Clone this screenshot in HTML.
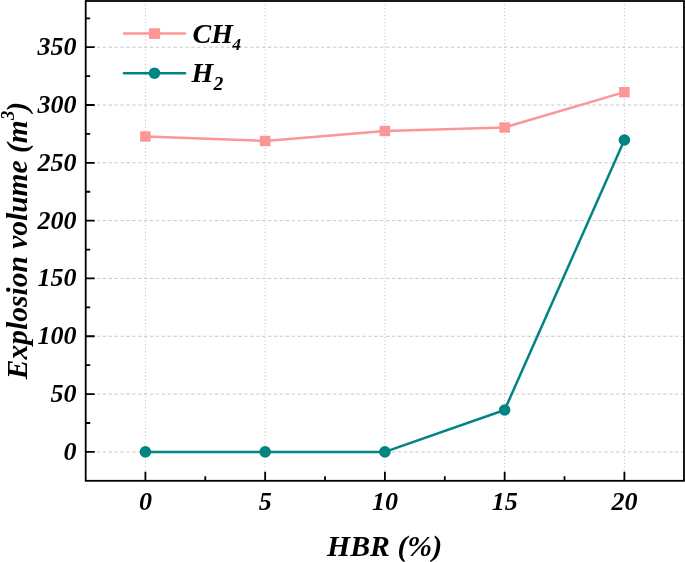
<!DOCTYPE html>
<html><head><meta charset="utf-8"><style>
html,body{margin:0;padding:0;background:#fff;width:685px;height:562px;overflow:hidden;font-family:"Liberation Serif",serif;}
svg{display:block;will-change:transform}
</style></head><body>
<svg width="685" height="562" viewBox="0 0 685 562">
<rect width="685" height="562" fill="#fff"/>
<line x1="85.7" y1="451.90" x2="684.0" y2="451.90" stroke="#c8c8c8" stroke-width="1" stroke-dasharray="3.3 2.6" stroke-dashoffset="0.6"/>
<line x1="85.7" y1="394.08" x2="684.0" y2="394.08" stroke="#c8c8c8" stroke-width="1" stroke-dasharray="3.3 2.6" stroke-dashoffset="0.6"/>
<line x1="85.7" y1="336.27" x2="684.0" y2="336.27" stroke="#c8c8c8" stroke-width="1" stroke-dasharray="3.3 2.6" stroke-dashoffset="0.6"/>
<line x1="85.7" y1="278.45" x2="684.0" y2="278.45" stroke="#c8c8c8" stroke-width="1" stroke-dasharray="3.3 2.6" stroke-dashoffset="0.6"/>
<line x1="85.7" y1="220.64" x2="684.0" y2="220.64" stroke="#c8c8c8" stroke-width="1" stroke-dasharray="3.3 2.6" stroke-dashoffset="0.6"/>
<line x1="85.7" y1="162.82" x2="684.0" y2="162.82" stroke="#c8c8c8" stroke-width="1" stroke-dasharray="3.3 2.6" stroke-dashoffset="0.6"/>
<line x1="85.7" y1="105.01" x2="684.0" y2="105.01" stroke="#c8c8c8" stroke-width="1" stroke-dasharray="3.3 2.6" stroke-dashoffset="0.6"/>
<line x1="85.7" y1="47.19" x2="684.0" y2="47.19" stroke="#c8c8c8" stroke-width="1" stroke-dasharray="3.3 2.6" stroke-dashoffset="0.6"/>
<line x1="145.40" y1="1.0" x2="145.40" y2="480.8" stroke="#c0c0c0" stroke-width="1" stroke-dasharray="1 2.5"/>
<line x1="265.15" y1="1.0" x2="265.15" y2="480.8" stroke="#c0c0c0" stroke-width="1" stroke-dasharray="1 2.5"/>
<line x1="384.90" y1="1.0" x2="384.90" y2="480.8" stroke="#c0c0c0" stroke-width="1" stroke-dasharray="1 2.5"/>
<line x1="504.65" y1="1.0" x2="504.65" y2="480.8" stroke="#c0c0c0" stroke-width="1" stroke-dasharray="1 2.5"/>
<line x1="624.40" y1="1.0" x2="624.40" y2="480.8" stroke="#c0c0c0" stroke-width="1" stroke-dasharray="1 2.5"/>
<path d="M85.7 451.90H94.7 M85.7 394.08H94.7 M85.7 336.27H94.7 M85.7 278.45H94.7 M85.7 220.64H94.7 M85.7 162.82H94.7 M85.7 105.01H94.7 M85.7 47.19H94.7 M85.7 422.99H90.2 M85.7 365.18H90.2 M85.7 307.36H90.2 M85.7 249.55H90.2 M85.7 191.73H90.2 M85.7 133.92H90.2 M85.7 76.10H90.2 M85.7 18.29H90.2 M145.40 480.8V471.8 M265.15 480.8V471.8 M384.90 480.8V471.8 M504.65 480.8V471.8 M624.40 480.8V471.8 M205.28 480.8V476.3 M325.02 480.8V476.3 M444.77 480.8V476.3 M564.52 480.8V476.3" stroke="#000" stroke-width="1.8" fill="none"/>
<rect x="85.7" y="1.0" width="598.3" height="479.8" fill="none" stroke="#000" stroke-width="1.8"/>
<polyline points="145.40,136.4 265.15,140.9 384.90,130.9 504.65,127.4 624.40,92.1" fill="none" stroke="#fb9797" stroke-width="2.5" stroke-linejoin="round"/>
<polyline points="145.40,451.9 265.15,451.9 384.90,451.9 504.65,410.0 624.40,140.0" fill="none" stroke="#008582" stroke-width="2.5" stroke-linejoin="round"/>
<rect x="140.10" y="131.30" width="10.6" height="10.4" fill="#fb9797"/>
<rect x="259.85" y="135.80" width="10.6" height="10.4" fill="#fb9797"/>
<rect x="379.60" y="125.80" width="10.6" height="10.4" fill="#fb9797"/>
<rect x="499.35" y="122.30" width="10.6" height="10.4" fill="#fb9797"/>
<rect x="619.10" y="87.00" width="10.6" height="10.4" fill="#fb9797"/>
<circle cx="145.40" cy="451.9" r="5.8" fill="#008582"/>
<circle cx="265.15" cy="451.9" r="5.8" fill="#008582"/>
<circle cx="384.90" cy="451.9" r="5.8" fill="#008582"/>
<circle cx="504.65" cy="410.0" r="5.8" fill="#008582"/>
<circle cx="624.40" cy="140.0" r="5.8" fill="#008582"/>
<line x1="124" y1="33.6" x2="185" y2="33.6" stroke="#fb9797" stroke-width="2.5" stroke-linecap="round"/>
<rect x="148.9" y="28.3" width="11.2" height="10.6" fill="#fb9797"/>
<line x1="124" y1="73.2" x2="185" y2="73.2" stroke="#008582" stroke-width="2.5" stroke-linecap="round"/>
<circle cx="154.5" cy="73.2" r="5.8" fill="#008582"/>
<text x="192.5" y="42.6" font-family="Liberation Serif" font-weight="bold" font-style="italic" font-size="28">CH<tspan font-size="17.5" dy="7.2" dx="-0.8">4</tspan></text>
<text x="191.5" y="82.2" font-family="Liberation Serif" font-weight="bold" font-style="italic" font-size="28">H<tspan font-size="19.5" dy="7.4" dx="0.3">2</tspan></text>
<text x="76.5" y="459.90" font-family="Liberation Serif" font-weight="bold" font-style="italic" font-size="26" text-anchor="end">0</text>
<text x="76.5" y="402.08" font-family="Liberation Serif" font-weight="bold" font-style="italic" font-size="26" text-anchor="end">50</text>
<text x="76.5" y="344.27" font-family="Liberation Serif" font-weight="bold" font-style="italic" font-size="26" text-anchor="end">100</text>
<text x="76.5" y="286.45" font-family="Liberation Serif" font-weight="bold" font-style="italic" font-size="26" text-anchor="end">150</text>
<text x="76.5" y="228.64" font-family="Liberation Serif" font-weight="bold" font-style="italic" font-size="26" text-anchor="end">200</text>
<text x="76.5" y="170.82" font-family="Liberation Serif" font-weight="bold" font-style="italic" font-size="26" text-anchor="end">250</text>
<text x="76.5" y="113.01" font-family="Liberation Serif" font-weight="bold" font-style="italic" font-size="26" text-anchor="end">300</text>
<text x="76.5" y="55.19" font-family="Liberation Serif" font-weight="bold" font-style="italic" font-size="26" text-anchor="end">350</text>
<text x="145.40" y="510.0" font-family="Liberation Serif" font-weight="bold" font-style="italic" font-size="26" text-anchor="middle">0</text>
<text x="265.15" y="510.0" font-family="Liberation Serif" font-weight="bold" font-style="italic" font-size="26" text-anchor="middle">5</text>
<text x="384.90" y="510.0" font-family="Liberation Serif" font-weight="bold" font-style="italic" font-size="26" text-anchor="middle">10</text>
<text x="504.65" y="510.0" font-family="Liberation Serif" font-weight="bold" font-style="italic" font-size="26" text-anchor="middle">15</text>
<text x="624.40" y="510.0" font-family="Liberation Serif" font-weight="bold" font-style="italic" font-size="26" text-anchor="middle">20</text>
<text x="384.6" y="555.7" font-family="Liberation Serif" font-weight="bold" font-style="italic" font-size="29.8" text-anchor="middle">HBR (%)</text>
<text transform="translate(26.7,240.6) rotate(-90)" x="0" y="0" font-family="Liberation Serif" font-weight="bold" font-style="italic" font-size="29.5" text-anchor="middle">Explosion volume (m<tspan font-size="18.5" dy="-12.5" dx="0.3">3</tspan><tspan dy="12.5" dx="-1.2">)</tspan></text>
</svg>
</body></html>
